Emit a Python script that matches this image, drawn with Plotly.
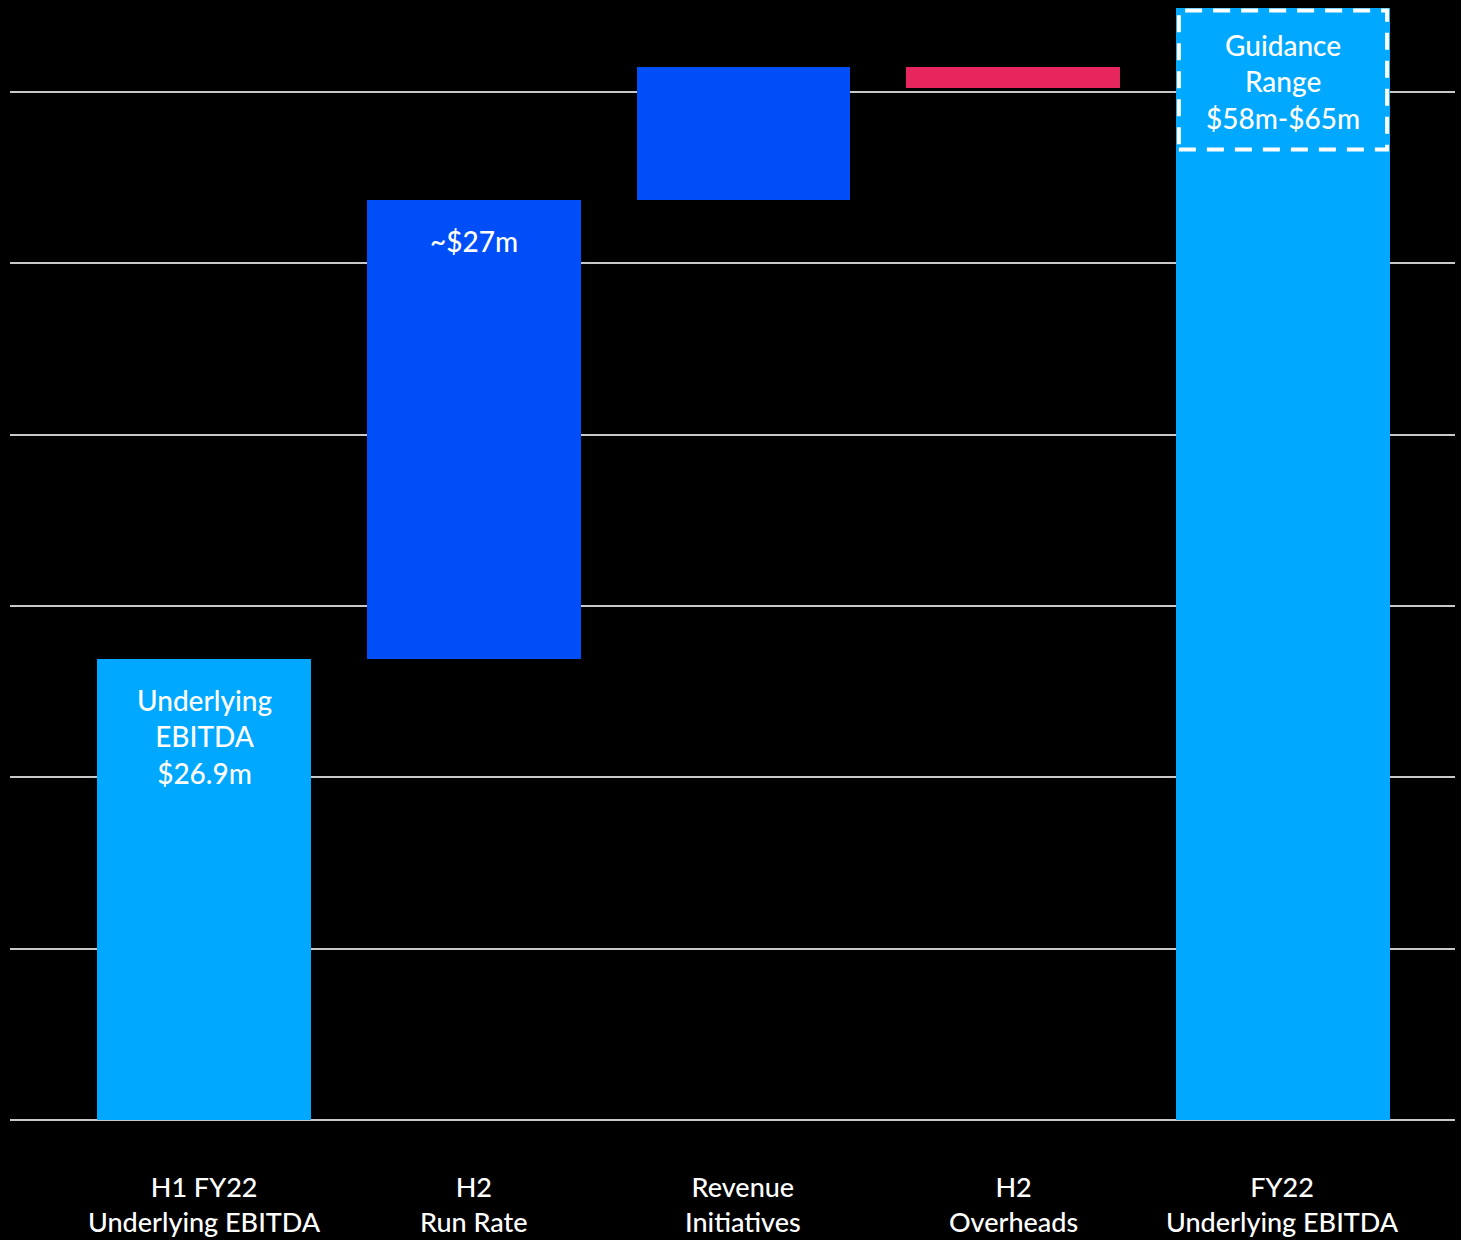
import plotly.graph_objects as go

# ---- data ----
categories = ["H1 FY22<br>Underlying EBITDA", "H2<br>Run Rate", "Revenue<br>Initiatives",
              "H2<br>Overheads", "FY22<br>Underlying EBITDA"]
bar_start = [0, 26.9, 53.7, 61.45, 0]      # base of each bar ($m)
bar_end = [26.9, 53.7, 61.45, 60.25, 64.9]  # top/end of each bar ($m)
bar_labels = ["Underlying<br>EBITDA<br>$26.9m", "~$27m", "", "", "Guidance<br>Range<br>$58m-$65m"]
guidance_low = 56.65
guidance_high = 64.75

LIGHT = "#00A8FF"
BLUE = "#004EF8"
RED = "#E8265E"
colors = [LIGHT, BLUE, BLUE, RED, LIGHT]
FONT = "Lato"

x_idx = list(range(len(categories)))
bases = [min(s, e) for s, e in zip(bar_start, bar_end)]
heights = [abs(e - s) for s, e in zip(bar_start, bar_end)]
tops = [max(s, e) for s, e in zip(bar_start, bar_end)]

fig = go.Figure()
fig.add_trace(go.Bar(
    x=x_idx, y=heights, base=bases, width=0.793,
    marker=dict(color=colors, line=dict(width=0)),
    hoverinfo="skip", showlegend=False,
))

annotations = []
for i, (lab, top) in enumerate(zip(bar_labels, tops)):
    if lab:
        annotations.append(dict(
            x=i, y=top, xref="x", yref="y", text=lab, showarrow=False,
            yanchor="top", yshift=-22 if i != 4 else -18,
            font=dict(family=FONT, size=28, color="white", weight=500), align="center",
        ))
for i, cat in enumerate(categories):
    annotations.append(dict(
        x=i, y=0, xref="x", yref="y", text=cat, showarrow=False,
        yanchor="top", yshift=-48,
        font=dict(family=FONT, size=27, color="white", weight=500), align="center",
    ))

half = 0.386
fig.add_shape(type="rect", xref="x", yref="y",
              x0=4 - half, x1=4 + half, y0=guidance_low, y1=guidance_high,
              line=dict(color="white", width=4, dash="17px,11px"),
              fillcolor="rgba(0,0,0,0)")

ymin = -34 / (1028 / 60)
ymax = 1120 / (1028 / 60)
fig.update_layout(
    width=1461, height=1240,
    paper_bgcolor="black", plot_bgcolor="black",
    margin=dict(l=10, r=6, t=0, b=86),
    xaxis=dict(range=[-0.7192, 4.6377], showgrid=False, zeroline=False,
               showticklabels=False, showline=False, fixedrange=True),
    yaxis=dict(range=[ymin, ymax], tick0=0, dtick=10, showgrid=True,
               gridcolor="#c8c8c8", gridwidth=2, zeroline=True,
               zerolinecolor="#c8c8c8", zerolinewidth=2,
               showticklabels=False, showline=False, fixedrange=True),
    annotations=annotations,
    bargap=0,
)

fig.write_html("out.html")
